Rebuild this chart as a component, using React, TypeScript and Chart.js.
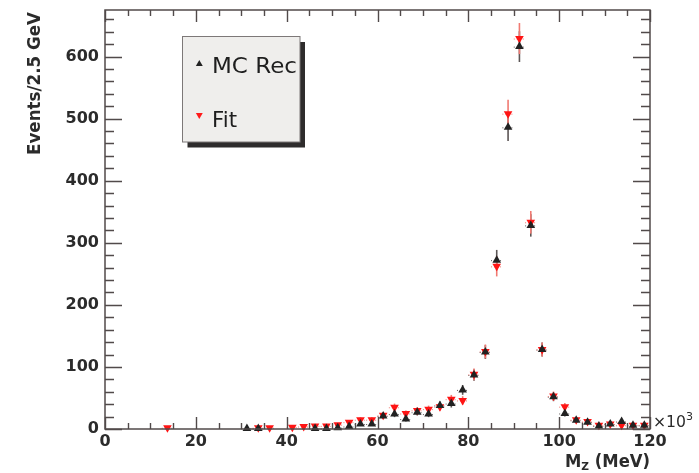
import React, { useEffect, useRef } from 'react';
import { Chart, registerables } from 'chart.js';

Chart.register(...registerables);

// ---- data (bin centres in units of 10^3 MeV, 2.5 wide bins) ----
const binCenters = [
  13.75, 31.25, 33.75, 36.25, 41.25, 43.75, 46.25, 48.75, 51.25, 53.75,
  56.25, 58.75, 61.25, 63.75, 66.25, 68.75, 71.25, 73.75, 76.25, 78.75,
  81.25, 83.75, 86.25, 88.75, 91.25, 93.75, 96.25, 98.75, 101.25, 103.75,
  106.25, 108.75, 111.25, 113.75, 116.25, 118.75,
];
const mcRec: (number | null)[] = [
  null, 1, 1, null, null, null, 1, 1, 2, 4,
  8, 8, 21, 24, 16, 27, 24, 38, 41, 63,
  87, 124, 272, 486, 616, 328, 128, 52, 25, 14,
  11, 5, 8, 12, 6, 6,
];
const fitVals: (number | null)[] = [
  2, null, 2, 2, 3, 4, 5, 5, 7, 11,
  15, 15, 22, 35, 25, 30, 32, 36, 48, 46,
  88, 125, 262, 508, 629, 333, 128, 53, 36, 15,
  12, 6, 8, 6, 6, 6,
];
const binHalfWidth = 1.25;
const xTickLabels = ['0', '20', '40', '60', '80', '100', '120'];
const yTickLabels = ['0', '100', '200', '300', '400', '500', '600'];
const seriesNames = ['MC Rec', 'Fit'];
const xTitleMain = 'M';
const xTitleSub = 'Z';
const xTitleRest = ' (MeV)';
const yTitle = 'Events/2.5 GeV';
const xExponentBase = '\u00d710';
const xExponent = '3';

const X_MIN = 0;
const X_MAX = 120;
const Y_MIN = 0;
const Y_MAX = 675;

function toPoints(vals: (number | null)[]) {
  const pts: { x: number; y: number }[] = [];
  vals.forEach((v, i) => {
    if (v !== null) pts.push({ x: binCenters[i], y: v });
  });
  return pts;
}

const FRAME = '#514a4a';
const FAM = '"DejaVu Sans", "Liberation Sans", sans-serif';

function drawFitted(ctx: CanvasRenderingContext2D, text: string, x: number, y: number, width: number) {
  const w = ctx.measureText(text).width;
  ctx.save();
  ctx.translate(x, y);
  ctx.scale(width / w, 1);
  ctx.fillText(text, 0, 0);
  ctx.restore();
}

function triangle(ctx: CanvasRenderingContext2D, x: number, y: number, r: number, down: boolean) {
  const s = down ? -1 : 1;
  ctx.beginPath();
  ctx.moveTo(x, y - s * r);
  ctx.lineTo(x + r * 0.866, y + s * r * 0.5);
  ctx.lineTo(x - r * 0.866, y + s * r * 0.5);
  ctx.closePath();
  ctx.fill();
}

const rootPlugin = {
  id: 'rootStyle',
  beforeDatasetsDraw(chart: any) {
    const ctx: CanvasRenderingContext2D = chart.ctx;
    const xs = chart.scales.x;
    const ys = chart.scales.y;
    const sets = [
      { vals: mcRec, color: '#5c5656' },
      { vals: fitVals, color: '#f07a72' },
    ];
    ctx.save();
    sets.forEach((s) => {
      s.vals.forEach((v, i) => {
        if (v === null) return;
        const xc = binCenters[i];
        const px = xs.getPixelForValue(xc);
        const err = Math.sqrt(v);
        const yTop = ys.getPixelForValue(Math.min(v + err, Y_MAX));
        const yBot = ys.getPixelForValue(Math.max(v - err, 0));
        const py = ys.getPixelForValue(v);
        ctx.strokeStyle = s.color;
        ctx.lineWidth = 1.6;
        ctx.setLineDash([]);
        ctx.beginPath();
        ctx.moveTo(px, yTop);
        ctx.lineTo(px, yBot);
        ctx.stroke();
        ctx.lineWidth = 1;
        ctx.setLineDash([1, 2]);
        ctx.beginPath();
        ctx.moveTo(xs.getPixelForValue(xc - binHalfWidth), py + 0.5);
        ctx.lineTo(xs.getPixelForValue(xc + binHalfWidth), py + 0.5);
        ctx.stroke();
      });
    });
    ctx.restore();
  },
  afterDraw(chart: any) {
    const ctx: CanvasRenderingContext2D = chart.ctx;
    const xs = chart.scales.x;
    const ys = chart.scales.y;
    const { left, right, top, bottom } = chart.chartArea;
    ctx.save();
    // frame
    ctx.strokeStyle = FRAME;
    ctx.lineWidth = 1.5;
    ctx.setLineDash([]);
    ctx.strokeRect(left, top, right - left, bottom - top);
    // y ticks (left and right, pointing inwards)
    ctx.lineWidth = 1.4;
    ctx.beginPath();
    for (let v = Y_MIN; v <= Y_MAX; v += 20) {
      const py = Math.round(ys.getPixelForValue(v)) + 0.5;
      const len = v % 100 === 0 ? 17 : 9;
      ctx.moveTo(left, py);
      ctx.lineTo(left + len, py);
      ctx.moveTo(right, py);
      ctx.lineTo(right - len, py);
    }
    // x ticks (bottom and top, pointing inwards)
    for (let v = X_MIN; v <= X_MAX; v += 5) {
      const px = Math.round(xs.getPixelForValue(v)) + 0.5;
      const len = v % 20 === 0 ? 12 : 6;
      ctx.moveTo(px, bottom);
      ctx.lineTo(px, bottom - len);
      ctx.moveTo(px, top);
      ctx.lineTo(px, top + len);
    }
    ctx.stroke();

    // y title
    ctx.fillStyle = '#2b2b2b';
    ctx.font = `bold 17px ${FAM}`;
    ctx.save();
    ctx.translate(39.5, 12);
    ctx.rotate(-Math.PI / 2);
    ctx.textAlign = 'left';
    ctx.textBaseline = 'alphabetic';
    const wy = ctx.measureText(yTitle).width;
    ctx.scale(143 / wy, 1);
    ctx.fillText(yTitle, -wy, 0);
    ctx.restore();

    // x title: M_Z (MeV)
    ctx.save();
    ctx.textAlign = 'left';
    ctx.textBaseline = 'alphabetic';
    ctx.font = `bold 17px ${FAM}`;
    const wM = ctx.measureText(xTitleMain).width;
    const wR = ctx.measureText(xTitleRest).width;
    ctx.font = `bold 11px ${FAM}`;
    const wZ = ctx.measureText(xTitleSub).width;
    const total = wM + wZ + wR;
    const target = 85;
    ctx.translate(650 - target, 467);
    ctx.scale(target / total, 1);
    ctx.font = `bold 17px ${FAM}`;
    ctx.fillText(xTitleMain, 0, 0);
    ctx.font = `bold 11px ${FAM}`;
    ctx.fillText(xTitleSub, wM, 3);
    ctx.font = `bold 17px ${FAM}`;
    ctx.fillText(xTitleRest, wM + wZ, 0);
    ctx.restore();

    // x10^3
    ctx.save();
    ctx.fillStyle = '#2b2b2b';
    ctx.textAlign = 'left';
    ctx.textBaseline = 'alphabetic';
    ctx.font = `16px ${FAM}`;
    drawFitted(ctx, xExponentBase, 653, 426.5, 33);
    ctx.font = `11px ${FAM}`;
    drawFitted(ctx, xExponent, 686, 420, 7);
    ctx.restore();

    // legend
    const bx = 182.5, by = 36.5, bw = 117.5, bh = 105.5;
    ctx.fillStyle = '#2e2c2c';
    ctx.fillRect(bx + 5, by + 5.5, bw, bh);
    ctx.fillStyle = '#efeeec';
    ctx.fillRect(bx, by, bw, bh);
    ctx.strokeStyle = '#7d7878';
    ctx.lineWidth = 1;
    ctx.strokeRect(bx, by, bw, bh);
    ctx.fillStyle = '#222';
    triangle(ctx, 199.3, 64, 4, false);
    ctx.fillStyle = '#ff1a1a';
    triangle(ctx, 199.3, 115, 4, true);
    ctx.fillStyle = '#1e1e1e';
    ctx.font = `20.5px ${FAM}`;
    ctx.textAlign = 'left';
    ctx.textBaseline = 'alphabetic';
    drawFitted(ctx, seriesNames[0], 212, 73.3, 85);
    drawFitted(ctx, seriesNames[1], 212, 126.7, 25);
    ctx.restore();
  },
};

export default function App() {
  const ref = useRef<HTMLCanvasElement | null>(null);
  useEffect(() => {
    if (!ref.current) return;
    const chart = new Chart(ref.current, {
      type: 'scatter',
      data: {
        datasets: [
          {
            label: seriesNames[0],
            data: toPoints(mcRec),
            pointStyle: 'triangle',
            pointRadius: 5,
            pointBackgroundColor: '#222222',
            pointBorderColor: '#222222',
            pointBorderWidth: 0,
            showLine: false,
            clip: false as any,
          },
          {
            label: seriesNames[1],
            data: toPoints(fitVals),
            pointStyle: 'triangle',
            pointRotation: 180,
            pointRadius: 5,
            pointBackgroundColor: '#ff1414',
            pointBorderColor: '#ff1414',
            pointBorderWidth: 0,
            showLine: false,
            clip: false as any,
          },
        ],
      },
      options: {
        responsive: false,
        animation: false,
        devicePixelRatio: 1,
        layout: { padding: { left: 0, right: 49, top: 10, bottom: 0 } },
        plugins: {
          legend: { display: false },
          tooltip: { enabled: false },
          title: { display: false },
        },
        scales: {
          x: {
            type: 'linear',
            min: X_MIN,
            max: X_MAX,
            grid: { display: false, drawTicks: false },
            border: { display: false },
            ticks: {
              stepSize: 20,
              includeBounds: false,
              padding: 3,
              color: '#2b2b2b',
              font: { family: FAM, weight: 'bold', size: 16 },
              maxRotation: 0,
              autoSkip: false,
              callback: (v: any) => (xTickLabels.includes(String(v)) ? String(v) : ''),
            },
            afterFit: (s: any) => {
              s.height = 44;
              s.paddingLeft = 0;
              s.paddingRight = 0;
            },
          },
          y: {
            type: 'linear',
            min: Y_MIN,
            max: Y_MAX,
            grid: { display: false, drawTicks: false },
            border: { display: false },
            ticks: {
              stepSize: 100,
              includeBounds: false,
              padding: 6,
              color: '#2b2b2b',
              font: { family: FAM, weight: 'bold', size: 16 },
              autoSkip: false,
              callback: (v: any) => (yTickLabels.includes(String(v)) ? String(v) : ''),
            },
            afterFit: (s: any) => {
              s.width = 105;
              s.paddingTop = 0;
              s.paddingBottom = 0;
            },
          },
        },
      } as any,
      plugins: [rootPlugin],
    });
    return () => chart.destroy();
  }, []);
  return (
    <div style={{ position: 'fixed', left: 0, top: 0, width: 699, height: 473, background: '#ffffff' }}>
      <canvas ref={ref} width={699} height={473} style={{ display: 'block' }} />
    </div>
  );
}
